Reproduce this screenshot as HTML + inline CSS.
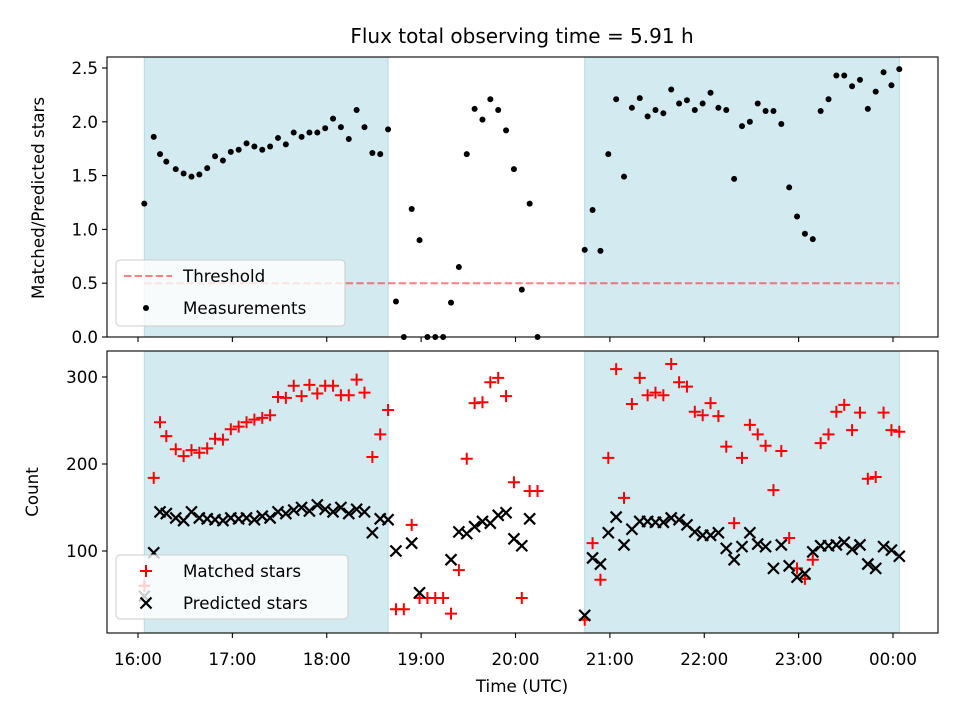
<!DOCTYPE html>
<html><head><meta charset="utf-8"><style>
html,body{margin:0;padding:0;background:#fff}
svg{display:block;font-family:"DejaVu Sans","Liberation Sans",sans-serif}
</style></head><body>
<svg id="fig" width="960" height="720" viewBox="0 0 960 720">
<rect width="960" height="720" fill="#fff"/>
<text x="522" y="43" font-size="20" text-anchor="middle">Flux total observing time = 5.91 h</text>
<g id="top"></g>
<g id="bot"></g>
<text x="522" y="692" font-size="16.7" text-anchor="middle">Time (UTC)</text>
<text transform="translate(44,198) rotate(-90)" font-size="16.7" text-anchor="middle">Matched/Predicted stars</text>
<text transform="translate(38,492) rotate(-90)" font-size="16.7" text-anchor="middle">Count</text>
</svg>
<script>
// minutes since 16:00 UTC
const times = [4,10,14,18,24,29,34,39,44,49,54,59,64,69,74,79,84,89,94,99,104,109,114,119,124,129,134,139,144,149,154,159,164,169,174,179,184,189,194,199,204,209,214,219,224,229,234,239,244,249,254,284,289,294,299,304,309,314,319,324,329,334,339,344,349,354,359,364,369,374,379,384,389,394,399,404,409,414,419,424,429,434,439,444,449,454,459,464,469,474,479,484];
const ratio = [1.24,1.86,1.70,1.63,1.56,1.52,1.49,1.51,1.57,1.68,1.64,1.72,1.74,1.80,1.77,1.74,1.77,1.85,1.79,1.90,1.86,1.90,1.90,1.94,2.03,1.95,1.84,2.11,1.95,1.71,1.70,1.93,0.33,0,1.19,0.90,0,0,0,0.32,0.65,1.70,2.12,2.02,2.21,2.11,1.92,1.56,0.44,1.24,0,0.81,1.18,0.80,1.70,2.21,1.49,2.13,2.22,2.05,2.11,2.08,2.30,2.17,2.20,2.11,2.17,2.27,2.13,2.11,1.47,1.96,2.00,2.17,2.10,2.10,1.98,1.39,1.12,0.96,0.91,2.10,2.21,2.43,2.43,2.33,2.39,2.12,2.28,2.46,2.34,2.49];
const matched = [60,184,248,232,217,209,216,213,218,229,228,240,243,248,251,253,256,277,276,290,278,291,281,290,290,279,279,297,282,208,234,262,33,33,130,46,46,46,46,28,78,206,270,271,294,299,278,179,46,169,169,21,109,67,207,309,161,269,299,279,282,279,315,294,289,260,256,270,255,220,132,207,245,234,221,170,215,115,80,68,90,224,234,260,268,239,259,183,185,259,239,237];
const predicted = [48,98,145,143,138,135,145,138,137,136,135,138,137,138,136,140,138,145,143,147,150,146,153,148,145,150,143,148,145,121,137,136,100,null,109,52,null,null,null,90,122,120,128,134,132,141,144,114,106,137,null,26,92,85,121,139,107,125,134,134,133,133,138,136,130,122,118,118,121,103,90,105,121,108,105,80,107,83,70,74,99,106,106,107,110,102,107,85,80,105,101,94];
const spans = [[4,159],[284,484]];
const threshold = 0.5;
const xTickLabels = ["16:00","17:00","18:00","19:00","20:00","21:00","22:00","23:00","00:00"];
const topTicks = [0.0,0.5,1.0,1.5,2.0,2.5];
const botTicks = [100,200,300];

const NS="http://www.w3.org/2000/svg";
const L=107,R=938;
const X=m=>138+m*94.375/60;
const Yt=v=>337-v*107.6;
const Yb=v=>638-v*0.87;
function mk(tag,attrs,parent){const e=document.createElementNS(NS,tag);for(const k in attrs)e.setAttribute(k,attrs[k]);parent.appendChild(e);return e;}
const gTop=document.getElementById('top'), gBot=document.getElementById('bot');

function panel(g,T,B,ticks,Y,fmt,name){
  spans.forEach(s=>{const r=mk('rect',{x:X(s[0]),y:T,width:X(s[1])-X(s[0]),height:B-T,fill:'#d4eaf1',stroke:'#b5d9e5','stroke-width':1},g);
    
    });
  xTickLabels.forEach((lab,i)=>{const x=X(i*60);const t=mk('line',{x1:x,x2:x,y1:B,y2:B+5,stroke:'#000','stroke-width':1.1},g);
    
    });
  ticks.forEach(v=>{const y=Y(v);const t=mk('line',{x1:L-5,x2:L,y1:y,y2:y,stroke:'#000','stroke-width':1.1},g);
    
    
    const tx=mk('text',{x:L-9,y:y+6,'font-size':16.7,'text-anchor':'end'},g);tx.textContent=fmt(v);
    
    });
}
panel(gTop,57,337,topTicks,Yt,v=>v.toFixed(1),'top');
panel(gBot,351,633,botTicks,Yb,v=>String(v),'bottom');

const th=mk('line',{x1:X(spans[0][0]),x2:X(spans[1][1]),y1:Yt(threshold),y2:Yt(threshold),stroke:'rgba(255,0,0,0.5)','stroke-width':2,'stroke-dasharray':'7.4,3.2'},gTop);



times.forEach((t,i)=>{
  const c=mk('circle',{cx:X(t),cy:Yt(ratio[i]),r:3,fill:'#000'},gTop);
  
  
});
times.forEach((t,i)=>{
  const x=X(t),y=Yb(matched[i]);
  const p=mk('path',{d:`M${x-6},${y}H${x+6}M${x},${y-6}V${y+6}`,stroke:'#f00','stroke-width':2,fill:'none'},gBot);
  
  
});
times.forEach((t,i)=>{
  if(predicted[i]==null)return;
  const x=X(t),y=Yb(predicted[i]);
  const p=mk('path',{d:`M${x-5.5},${y-5.5}L${x+5.5},${y+5.5}M${x-5.5},${y+5.5}L${x+5.5},${y-5.5}`,stroke:'#000','stroke-width':2.2,fill:'none'},gBot);
  
  
});

[[gTop,57,337],[gBot,351,633]].forEach(([g,T,B])=>{
  const f=mk('rect',{x:L,y:T,width:R-L,height:B-T,fill:'none',stroke:'#000','stroke-width':1.1},g);
  
  
});
xTickLabels.forEach((lab,i)=>{const tx=mk('text',{x:X(i*60),y:665,'font-size':16.7,'text-anchor':'middle'},gBot);tx.textContent=lab;
  
  });

function legend(g,x,y,w,h,entries,name){
  const lg=mk('g',{},g);
  
  
  mk('rect',{x,y,width:w,height:h,rx:4,fill:'rgba(255,255,255,0.8)',stroke:'#ccc','stroke-width':1},lg);
  entries.forEach(([draw,label],i)=>{const cy=y+16+i*32;draw(lg,cy);
    const tx=mk('text',{x:x+67,y:cy+6,'font-size':16.7},lg);tx.textContent=label;
    
    });
}
legend(gTop,116,260,229,66,[
 [(g,cy)=>mk('line',{x1:124,x2:172,y1:cy,y2:cy,stroke:'rgba(255,0,0,0.5)','stroke-width':2,'stroke-dasharray':'7.4,3.2'},g),'Threshold'],
 [(g,cy)=>mk('circle',{cx:146,cy:cy,r:3,fill:'#000'},g),'Measurements']],'top-legend');
legend(gBot,116,555,232,64,[
 [(g,cy)=>mk('path',{d:`M140,${cy}H152M146,${cy-6}V${cy+6}`,stroke:'#f00','stroke-width':2},g),'Matched stars'],
 [(g,cy)=>mk('path',{d:`M140.5,${cy-5.5}L151.5,${cy+5.5}M140.5,${cy+5.5}L151.5,${cy-5.5}`,stroke:'#000','stroke-width':2.2},g),'Predicted stars']],'bottom-legend');
</script>
</body></html>
